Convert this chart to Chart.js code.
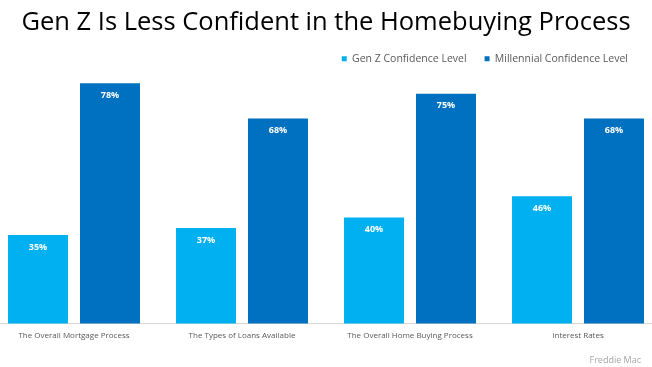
<!DOCTYPE html>
<html>
<head>
<meta charset="utf-8">
<script src="https://cdn.jsdelivr.net/npm/chart.js@4"></script>
<style>
  html, body { margin: 0; padding: 0; background: #fff; }
  #wrap { width: 652px; height: 367px; }
</style>
</head>
<body>
<div id="wrap"><canvas id="homeChart"></canvas></div>
<script>
// chart data
const categories = ['The Overall Mortgage Process', 'The Types of Loans Available', 'The Overall Home Buying Process', 'Interest Rates'];
const genZValues = [35, 37, 40, 46];
const millennialValues = [78, 68, 75, 68];

// the source chart runs its category band a little past both canvas edges,
// and the legend sits in from the right edge
const stretchAxis = {
    id: 'stretchAxis',
    afterLayout(chart) {
        const x = chart.scales.x;
        x.left = chart.chartArea.left - 10;
        x.right = chart.chartArea.right + 10;
        x.configure();
        chart.legend.left -= 6;
        chart.legend.right -= 6;
        chart.legend.top -= 2;
        chart.legend.bottom -= 2;
    }
};

// white percent labels inside top of each bar + source note
const barLabels = {
    id: 'barLabels',
    afterDatasetsDraw(chart) {
        const c = chart.ctx;
        c.save();
        c.fillStyle = '#ffffff';
        c.font = 'bold 9px "Open Sans"';
        c.textAlign = 'center';
        c.textBaseline = 'middle';
        chart.data.datasets.forEach((ds, i) => {
            chart.getDatasetMeta(i).data.forEach((bar, j) => {
                c.fillText(ds.data[j] + '%', bar.x, bar.y + 12);
            });
        });
        c.fillStyle = '#a6a6a6';
        c.font = '9px "Open Sans"';
        c.textAlign = 'right';
        c.fillText('Freddie Mac', chart.width - 11, 360);
        c.restore();
    }
};

const ctx = document.getElementById('homeChart').getContext('2d');
const homeChart = new Chart(ctx, {
    type: 'bar',
    data: {
        labels: categories,
        datasets: [{
            label: 'Gen Z Confidence Level',
            data: genZValues,
            backgroundColor: '#00b0f0'
        }, {
            label: 'Millennial Confidence Level',
            data: millennialValues,
            backgroundColor: '#0070c0'
        }]
    },
    options: {
        responsive: true,
        maintainAspectRatio: false,
        animation: false,
        layout: { padding: { left: 0, right: 0, top: 7, bottom: 18 } },
        datasets: {
            bar: { categoryPercentage: 0.857, barPercentage: 0.833 }
        },
        scales: {
            x: {
                grid: { display: false, drawTicks: false },
                border: { color: '#d9d9d9' },
                ticks: { color: '#595959', font: { family: 'Open Sans', size: 8 }, padding: 8, maxRotation: 0 }
            },
            y: {
                display: false,
                min: 10,
                max: 80
            }
        },
        plugins: {
            title: {
                display: true,
                text: 'Gen Z Is Less Confident in the Homebuying Process',
                color: '#000000',
                font: { family: 'Open Sans', size: 25.5, weight: 'normal' },
                padding: { top: 0, bottom: 0 }
            },
            legend: {
                align: 'end',
                labels: {
                    boxWidth: 5,
                    boxHeight: 5,
                    color: '#595959',
                    font: { family: 'Open Sans', size: 10.5 },
                    padding: 18
                }
            },
            tooltip: { enabled: false }
        }
    },
    plugins: [stretchAxis, barLabels]
});
</script>
</body>
</html>
